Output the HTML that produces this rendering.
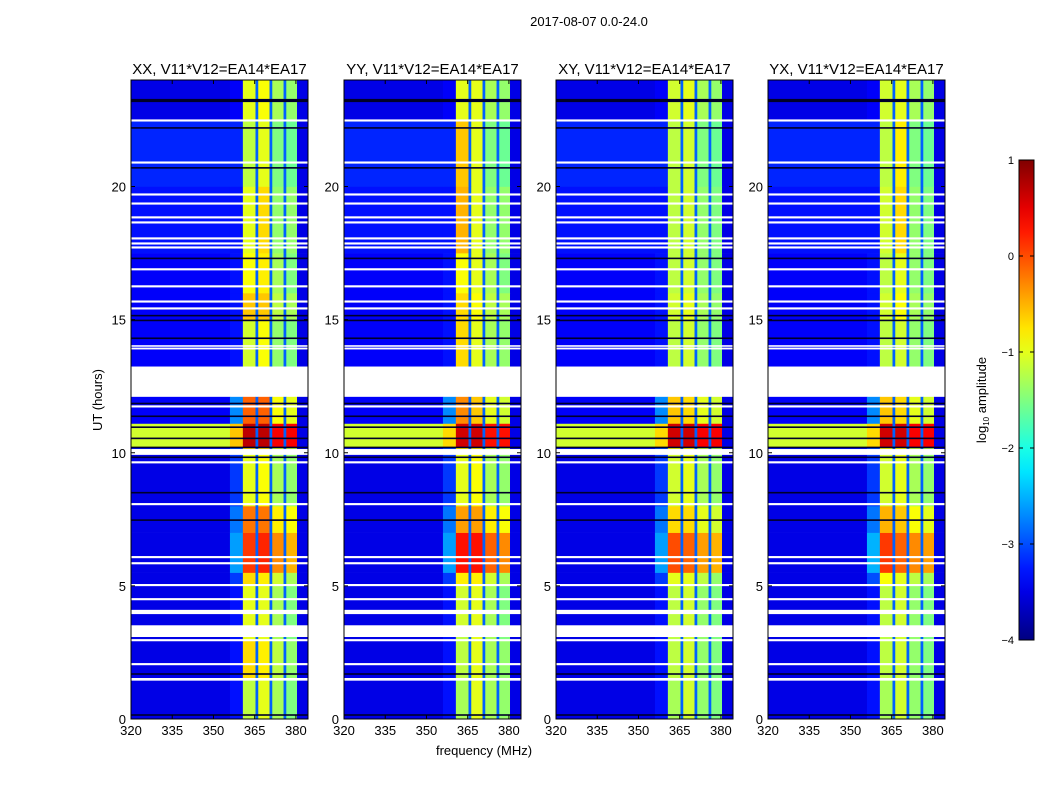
<!DOCTYPE html>
<html><head><meta charset="utf-8">
<style>
body{margin:0;background:#fff;}
svg text{font-family:"Liberation Sans",sans-serif;fill:#000;}
</style></head>
<body>
<svg id="fig" width="1050" height="800" xmlns="http://www.w3.org/2000/svg">
<defs><linearGradient id="jetg" x1="0" y1="1" x2="0" y2="0"></linearGradient></defs>
<text x="589" y="26" font-size="13" text-anchor="middle">2017-08-07 0.0-24.0</text>
<text x="484" y="755" font-size="13" text-anchor="middle">frequency (MHz)</text>
<text x="102" y="400" font-size="13" text-anchor="middle" transform="rotate(-90 102 400)">UT (hours)</text>
<g id="panels"></g>
<g id="cbar"></g>
</svg>
<script>
const panelTitles = ["XX, V11*V12=EA14*EA17","YY, V11*V12=EA14*EA17","XY, V11*V12=EA14*EA17","YX, V11*V12=EA14*EA17"];
const freqEdges = [320,356,360.7,365.3,366.3,370.4,371.4,375.5,376.5,380.4,384.4];
const timeEdges = [0,1.5,3,3.5,5,5.5,7,8,10,10.2,11.1,12.1,13.25,15,16,17.5,20,22.5,24];
const dividerValue = -2.9;
const rightEdgeValue = -3.5;
// columns: [background, band-edge, subband A, subband B, subband C, subband D]
const panel1Values = [
[-3.5,-3.3,-1.2,-1.0,-1.3,-1.5],[-3.5,-3.3,-0.7,-0.8,-1.2,-1.4],[-3.5,-3.3,-1.0,-1.0,-1.3,-1.5],
[-3.5,-3.3,-1.0,-1.0,-1.3,-1.5],[-3.5,-3.1,-0.7,-0.8,-1.1,-1.3],[-3.5,-2.6,0.1,0.2,-0.3,-0.5],
[-3.5,-2.8,-0.2,-0.2,-0.8,-0.9],[-3.5,-3.1,-1.0,-0.9,-1.3,-1.4],[-3.3,-3.0,-0.7,-0.7,-1.1,-1.2],
[-1.1,-0.6,0.7,0.7,0.4,0.4],[-3.4,-2.7,-0.1,-0.1,-0.9,-1.0],null,
[-3.4,-3.3,-1.1,-0.9,-1.4,-1.5],[-3.4,-3.3,-0.6,-0.6,-1.2,-1.3],[-3.4,-3.3,-0.9,-0.8,-1.3,-1.5],
[-3.3,-3.3,-1.0,-0.7,-1.4,-1.4],[-3.2,-3.2,-1.2,-1.0,-1.5,-1.6],[-3.5,-3.4,-1.0,-0.9,-1.3,-1.4]];
const panel2Values = [
[-3.5,-3.3,-1.3,-1.0,-1.3,-1.4],[-3.5,-3.3,-1.2,-1.0,-1.3,-1.4],[-3.5,-3.3,-1.2,-1.0,-1.3,-1.5],
[-3.5,-3.3,-1.1,-1.0,-1.3,-1.5],[-3.5,-3.1,-0.8,-0.8,-1.1,-1.3],[-3.5,-2.6,0.3,0.3,-0.1,-0.3],
[-3.5,-2.8,-0.4,-0.4,-0.8,-0.9],[-3.5,-3.1,-1.0,-0.9,-1.3,-1.4],[-3.3,-3.0,-0.8,-0.8,-1.1,-1.2],
[-1.1,-0.7,0.6,0.6,0.3,0.3],[-3.4,-2.7,-0.3,-0.6,-1.0,-1.1],null,
[-3.4,-3.3,-0.7,-1.0,-1.3,-1.4],[-3.4,-3.3,-0.7,-0.9,-1.2,-1.3],[-3.4,-3.3,-0.9,-1.0,-1.3,-1.5],
[-3.3,-3.3,-0.5,-1.0,-1.4,-1.4],[-3.2,-3.2,-0.6,-1.0,-1.5,-1.6],[-3.5,-3.4,-1.0,-1.0,-1.3,-1.4]];
const panel3Values = [
[-3.5,-3.3,-1.3,-1.1,-1.4,-1.5],[-3.5,-3.3,-1.2,-1.1,-1.4,-1.5],[-3.5,-3.3,-1.2,-1.1,-1.4,-1.5],
[-3.5,-3.3,-1.2,-1.1,-1.4,-1.5],[-3.5,-3.1,-1.0,-1.0,-1.2,-1.4],[-3.5,-2.6,0.0,-0.1,-0.4,-0.5],
[-3.5,-2.8,-0.7,-0.7,-1.0,-1.1],[-3.5,-3.1,-1.1,-1.0,-1.3,-1.4],[-3.3,-3.0,-0.9,-0.9,-1.2,-1.3],
[-1.1,-0.7,0.6,0.6,0.4,0.4],[-3.4,-2.7,-0.6,-0.7,-1.0,-1.1],null,
[-3.4,-3.3,-1.2,-1.1,-1.4,-1.5],[-3.4,-3.3,-1.1,-1.0,-1.3,-1.4],[-3.4,-3.3,-1.2,-1.1,-1.4,-1.5],
[-3.3,-3.3,-1.2,-1.1,-1.4,-1.5],[-3.2,-3.2,-1.2,-1.1,-1.5,-1.6],[-3.5,-3.4,-1.1,-1.0,-1.3,-1.4]];
const panel4Values = [
[-3.5,-3.3,-1.3,-1.1,-1.4,-1.5],[-3.5,-3.3,-1.2,-1.1,-1.4,-1.5],[-3.5,-3.3,-1.2,-1.1,-1.4,-1.5],
[-3.5,-3.3,-1.2,-1.1,-1.4,-1.5],[-3.5,-3.0,-0.9,-1.0,-1.2,-1.3],[-3.5,-2.5,0.1,-0.1,-0.3,-0.4],
[-3.5,-2.8,-0.5,-0.6,-0.9,-1.0],[-3.5,-3.1,-1.1,-1.0,-1.3,-1.4],[-3.3,-3.0,-0.9,-0.9,-1.2,-1.3],
[-1.1,-0.7,0.6,0.6,0.4,0.4],[-3.4,-2.7,-0.6,-0.7,-1.0,-1.1],null,
[-3.4,-3.3,-1.2,-1.1,-1.4,-1.5],[-3.4,-3.3,-1.1,-0.9,-1.3,-1.4],[-3.4,-3.3,-1.2,-1.0,-1.4,-1.5],
[-3.3,-3.3,-1.1,-0.7,-1.4,-1.5],[-3.2,-3.2,-1.2,-0.8,-1.5,-1.6],[-3.5,-3.4,-1.1,-1.0,-1.3,-1.4]];
const allPanelValues = [panel1Values,panel2Values,panel3Values,panel4Values];
const whiteStart = [1.44,2.02,2.92,3.08,3.94,4.46,4.99,5.81,6.04,8.03,9.6,9.92,11.7,13.88,13.98,15.38,15.64,16.21,16.85,17.67,17.82,18.01,18.61,18.8,19.32,19.66,20.86,22.44];
const whiteEnd   = [1.54,2.1,3.0,3.52,4.1,4.54,5.07,5.89,6.12,8.11,9.68,10.14,11.78,13.95,14.04,15.46,15.72,16.29,16.93,17.75,17.9,18.09,18.69,18.88,19.4,19.74,20.94,22.52];
const darkHours = [0.15,1.69,7.47,8.5,9.83,10.2,10.54,10.96,11.37,11.85,14.3,14.97,15.15,17.3,20.7,22.2,23.2,23.26];
const xTicks = [320,335,350,365,380];
const yTicks = [0,5,10,15,20];
const cbarTicks = [-4,-3,-2,-1,0,1];
const cbarTickLabels = ["\u22124","\u22123","\u22122","\u22121","0","1"];

const NS="http://www.w3.org/2000/svg";
const panelLeft=[131,344,556,768], PW=177, PT=80, PB=719;
const fmin=320,fmax=384.4,tmin=0,tmax=24,vmin=-4,vmax=1;
function jet(v){
  let t=(v-vmin)/(vmax-vmin); t=Math.max(0,Math.min(1,t));
  const f=x=>Math.round(255*Math.max(0,Math.min(1,x)));
  const r=f(Math.min(4*t-1.5,-4*t+4.5)), g=f(Math.min(4*t-0.5,-4*t+3.5)), b=f(Math.min(4*t+0.5,-4*t+2.5));
  return `rgb(${r},${g},${b})`;
}
function mk(tag,attrs,parent){const e=document.createElementNS(NS,tag);for(const k in attrs)e.setAttribute(k,attrs[k]);parent.appendChild(e);return e;}
const panelsG=document.getElementById('panels');
allPanelValues.forEach((vals,p)=>{
  const L=panelLeft[p];
  const xs=f=>L+(f-fmin)/(fmax-fmin)*PW;
  const ys=t=>PB-(t-tmin)/(tmax-tmin)*(PB-PT);
  const g=mk('g',{},panelsG);
  
  
  vals.forEach((row,i)=>{
    if(!row) return;
    const colVals=[row[0],row[1],row[2],dividerValue,row[3],dividerValue,row[4],dividerValue,row[5],rightEdgeValue];
    const y0=ys(timeEdges[i+1]), y1=ys(timeEdges[i]);
    for(let j=0;j<colVals.length;j++){
      const x0=xs(freqEdges[j]), x1=xs(freqEdges[j+1]);
      const r=mk('rect',{x:x0,y:y0,width:x1-x0+0.3,height:y1-y0+0.3,fill:jet(colVals[j])},g);
      
      
    }
  });
  darkHours.forEach(h=>{
    const l=mk('rect',{x:L,y:ys(h)-0.8,width:PW,height:1.6,fill:'#00002a'},g);
    
    
  });
  whiteStart.forEach((s,k)=>{
    const y0=ys(whiteEnd[k]), y1=ys(s);
    const l=mk('rect',{x:L,y:y0,width:PW,height:y1-y0,fill:'#fff'},g);
    
    
  });
  const fr=mk('rect',{x:L,y:PT,width:PW,height:PB-PT,fill:'none',stroke:'#000','stroke-width':1},g);
  
  
  const tt=mk('text',{x:L+PW/2,y:74,'font-size':15,'text-anchor':'middle'},g);
  tt.textContent=panelTitles[p];
  
  
  xTicks.forEach(v=>{
    const x=xs(v);
    mk('line',{x1:x,x2:x,y1:PB,y2:PB-4,stroke:'#000'},g);
    mk('line',{x1:x,x2:x,y1:PT,y2:PT+4,stroke:'#000'},g);
    const t=mk('text',{x:x,y:PB+16,'font-size':13,'text-anchor':'middle'},g);
    t.textContent=v;
    
    
  });
  yTicks.forEach(v=>{
    const y=ys(v);
    mk('line',{x1:L,x2:L+4,y1:y,y2:y,stroke:'#000'},g);
    mk('line',{x1:L+PW,x2:L+PW-4,y1:y,y2:y,stroke:'#000'},g);
    const t=mk('text',{x:L-5,y:y+5,'font-size':13,'text-anchor':'end'},g);
    t.textContent=v;
    
    
  });
});
const grad=document.getElementById('jetg');
for(let k=0;k<=20;k++){const v=vmin+(vmax-vmin)*k/20;mk('stop',{offset:(k/20),'stop-color':jet(v)},grad);}
const cb=document.getElementById('cbar');
const CX=1019,CW=15,CT=160,CB=640;
const cys=v=>CB-(v-vmin)/(vmax-vmin)*(CB-CT);
const cr=mk('rect',{x:CX,y:CT,width:CW,height:CB-CT,fill:'url(#jetg)',stroke:'#000'},cb);


cbarTicks.forEach((v,k)=>{
  const y=cys(v);
  mk('line',{x1:CX,x2:CX+4,y1:y,y2:y,stroke:'#000'},cb);
  mk('line',{x1:CX+CW,x2:CX+CW-4,y1:y,y2:y,stroke:'#000'},cb);
  const t=mk('text',{x:CX-5,y:y+4,'font-size':11,'text-anchor':'end'},cb);
  t.textContent=cbarTickLabels[k];
  
  
});
const cl=mk('text',{x:986,y:400,'font-size':13,'text-anchor':'middle',transform:'rotate(-90 986 400)'},cb);
cl.innerHTML='log<tspan font-size="8" dy="3">10</tspan><tspan dy="-3"> amplitude</tspan>';


</script>
</body></html>
